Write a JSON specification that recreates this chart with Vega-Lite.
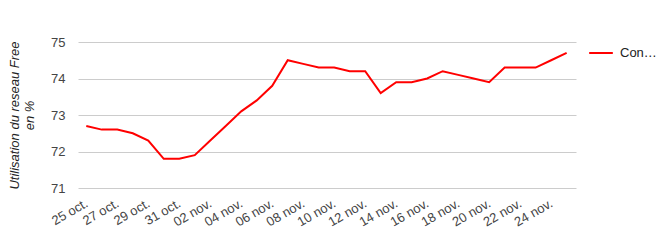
{
  "$schema": "https://vega.github.io/schema/vega-lite/v6.json",
  "width": 498,
  "height": 146,
  "autosize": "none",
  "padding": {"left": 78, "top": 42, "right": 81, "bottom": 54},
  "background": "white",
  "data": {
    "values": [
      {"date": "2013-10-25", "serie": "Con…", "value": 72.7},
      {"date": "2013-10-26", "serie": "Con…", "value": 72.6},
      {"date": "2013-10-27", "serie": "Con…", "value": 72.6},
      {"date": "2013-10-28", "serie": "Con…", "value": 72.5},
      {"date": "2013-10-29", "serie": "Con…", "value": 72.3},
      {"date": "2013-10-30", "serie": "Con…", "value": 71.8},
      {"date": "2013-10-31", "serie": "Con…", "value": 71.8},
      {"date": "2013-11-01", "serie": "Con…", "value": 71.9},
      {"date": "2013-11-02", "serie": "Con…", "value": 72.3},
      {"date": "2013-11-03", "serie": "Con…", "value": 72.7},
      {"date": "2013-11-04", "serie": "Con…", "value": 73.1},
      {"date": "2013-11-05", "serie": "Con…", "value": 73.4},
      {"date": "2013-11-06", "serie": "Con…", "value": 73.8},
      {"date": "2013-11-07", "serie": "Con…", "value": 74.5},
      {"date": "2013-11-08", "serie": "Con…", "value": 74.4},
      {"date": "2013-11-09", "serie": "Con…", "value": 74.3},
      {"date": "2013-11-10", "serie": "Con…", "value": 74.3},
      {"date": "2013-11-11", "serie": "Con…", "value": 74.2},
      {"date": "2013-11-12", "serie": "Con…", "value": 74.2},
      {"date": "2013-11-13", "serie": "Con…", "value": 73.6},
      {"date": "2013-11-14", "serie": "Con…", "value": 73.9},
      {"date": "2013-11-15", "serie": "Con…", "value": 73.9},
      {"date": "2013-11-16", "serie": "Con…", "value": 74.0},
      {"date": "2013-11-17", "serie": "Con…", "value": 74.2},
      {"date": "2013-11-18", "serie": "Con…", "value": 74.1},
      {"date": "2013-11-19", "serie": "Con…", "value": 74.0},
      {"date": "2013-11-20", "serie": "Con…", "value": 73.9},
      {"date": "2013-11-21", "serie": "Con…", "value": 74.3},
      {"date": "2013-11-22", "serie": "Con…", "value": 74.3},
      {"date": "2013-11-23", "serie": "Con…", "value": 74.3},
      {"date": "2013-11-24", "serie": "Con…", "value": 74.5},
      {"date": "2013-11-25", "serie": "Con…", "value": 74.7}
    ]
  },
  "mark": {"type": "line", "strokeWidth": 2, "interpolate": "linear"},
  "encoding": {
    "x": {
      "field": "date",
      "type": "temporal",
      "scale": {
        "type": "utc",
        "domain": ["2013-10-24T11:10:00Z", "2013-11-25T14:30:00Z"]
      },
      "axis": {
        "title": null,
        "grid": false,
        "domain": false,
        "ticks": false,
        "values": [
          "2013-10-25", "2013-10-27", "2013-10-29", "2013-10-31",
          "2013-11-02", "2013-11-04", "2013-11-06", "2013-11-08",
          "2013-11-10", "2013-11-12", "2013-11-14", "2013-11-16",
          "2013-11-18", "2013-11-20", "2013-11-22", "2013-11-24"
        ],
        "labelExpr": "utcFormat(datum.value, '%d') + ' ' + (utcmonth(datum.value) == 9 ? 'oct.' : 'nov.')",
        "labelAngle": -30,
        "labelAlign": "right",
        "labelBaseline": "middle",
        "labelPadding": 14,
        "labelFont": "Liberation Sans",
        "labelFontSize": 13,
        "labelColor": "#444444",
        "labelOverlap": false,
        "labelFlush": false
      }
    },
    "y": {
      "field": "value",
      "type": "quantitative",
      "scale": {"domain": [71, 75], "nice": false, "zero": false},
      "axis": {
        "values": [71, 72, 73, 74, 75],
        "title": ["Utilisation du reseau Free", "en %"],
        "titleFont": "Liberation Sans",
        "titleFontSize": 13,
        "titleFontStyle": "italic",
        "titleFontWeight": "normal",
        "titleColor": "#222222",
        "titlePadding": 14,
        "domain": false,
        "ticks": false,
        "grid": true,
        "gridColor": "#cccccc",
        "gridWidth": 1,
        "labelPadding": 13,
        "labelFont": "Liberation Sans",
        "labelFontSize": 13,
        "labelColor": "#444444"
      }
    },
    "color": {
      "field": "serie",
      "type": "nominal",
      "scale": {"range": ["#ff0000"]},
      "legend": {
        "title": null,
        "orient": "none",
        "legendX": 510,
        "legendY": -2,
        "symbolType": "stroke",
        "symbolSize": 560,
        "symbolStrokeWidth": 2,
        "labelFont": "Liberation Sans",
        "labelFontSize": 13,
        "labelColor": "#222222",
        "labelOffset": 6
      }
    }
  },
  "config": {"view": {"stroke": null}}
}
